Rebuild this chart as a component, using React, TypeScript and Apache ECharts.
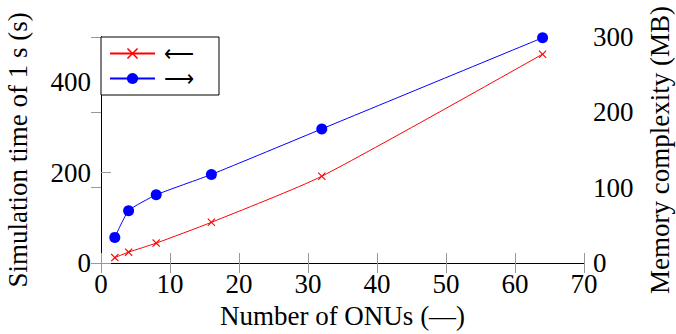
import React, { useEffect, useRef } from "react";
import * as echarts from "echarts";

const onus = [2, 4, 8, 16, 32, 64];
const simTime = [12, 24, 44, 90, 192, 462];
const memory = [34, 69.5, 90.5, 117.5, 178, 299];
const xTicks = [0, 10, 20, 30, 40, 50, 60, 70];
const leftTicks = [0, 200, 400];
const rightTicks = [0, 100, 200, 300];

const FONT = "Liberation Serif";
const crossPath =
  "path://M0,1L1,0L5,4L9,0L10,1L6,5L10,9L9,10L5,6L1,10L0,9L4,5Z";

export default function App() {
  const ref = useRef<HTMLDivElement>(null);
  useEffect(() => {
    if (!ref.current) return;
    const chart = echarts.init(ref.current, undefined, { renderer: "svg" });
    const tickStyle = { color: "#999", width: 1 };
    const lineStyle = { color: "#000", width: 1 };
    chart.setOption({
      animation: false,
      textStyle: { fontFamily: FONT },
      grid: {
        left: 101,
        right: 92,
        top: 37,
        bottom: 71,
        containLabel: false,
        outerBoundsMode: "none",
      },
      legend: {
        left: 101,
        top: 37,
        orient: "vertical",
        data: ["⟵", "⟶"],
        backgroundColor: "#fff",
        borderColor: "#000",
        borderWidth: 1,
        borderRadius: 0,
        padding: [6, 25, 6, 8],
        itemWidth: 45,
        itemHeight: 14,
        itemGap: 4,
        textStyle: {
          fontFamily: FONT,
          fontSize: 21,
          lineHeight: 21,
          color: "#000",
          padding: [0, 0, 0, 4],
        },
      },
      xAxis: [
        {
          type: "value",
          min: xTicks[0],
          max: xTicks[xTicks.length - 1],
          interval: 10,
          name: "Number of ONUs (—)",
          nameLocation: "middle",
          nameGap: 39,
          nameTextStyle: { fontFamily: FONT, fontSize: 27, color: "#000" },
          axisLine: { show: true, lineStyle },
          axisTick: { show: true, inside: true, length: 10, lineStyle: tickStyle },
          axisLabel: { fontFamily: FONT, fontSize: 27, color: "#000", margin: 7 },
          splitLine: { show: false },
        },
        {
          type: "value",
          position: "top",
          min: xTicks[0],
          max: xTicks[xTicks.length - 1],
          interval: 10,
          axisLine: { show: true, lineStyle },
          axisTick: { show: true, inside: true, length: 10, lineStyle: tickStyle },
          axisLabel: { show: false },
          splitLine: { show: false },
        },
      ],
      yAxis: [
        {
          type: "value",
          min: leftTicks[0],
          max: 500,
          interval: 200,
          name: "Simulation time of 1 s (s)",
          nameLocation: "middle",
          nameGap: 70,
          nameTextStyle: { fontFamily: FONT, fontSize: 27, color: "#000" },
          axisLine: { show: true, lineStyle },
          axisTick: { show: true, inside: true, length: 10, lineStyle: tickStyle },
          axisLabel: {
            fontFamily: FONT,
            fontSize: 27,
            color: "#000",
            margin: 10,
            showMaxLabel: false,
          },
          splitLine: { show: false },
        },
        {
          type: "value",
          position: "right",
          min: rightTicks[0],
          max: rightTicks[rightTicks.length - 1],
          interval: 100,
          name: "Memory complexity (MB)",
          nameLocation: "middle",
          nameGap: 62,
          nameRotate: 90,
          nameTextStyle: { fontFamily: FONT, fontSize: 27, color: "#000" },
          axisLine: { show: true, lineStyle },
          axisTick: { show: true, inside: true, length: 10, lineStyle: tickStyle },
          axisLabel: { fontFamily: FONT, fontSize: 27, color: "#000", margin: 9 },
          splitLine: { show: false },
        },
      ],
      series: [
        {
          name: "⟵",
          type: "line",
          yAxisIndex: 0,
          data: onus.map((x, i) => [x, simTime[i]]),
          smooth: 0.2,
          symbol: crossPath,
          symbolSize: 8,
          showAllSymbol: true,
          lineStyle: { color: "#ff0000", width: 1 },
          itemStyle: { color: "#ff0000" },
          z: 3,
        },
        {
          name: "⟶",
          type: "line",
          yAxisIndex: 1,
          data: onus.map((x, i) => [x, memory[i]]),
          smooth: 0.15,
          symbol: "circle",
          symbolSize: 11,
          showAllSymbol: true,
          lineStyle: { color: "#0000ff", width: 1 },
          itemStyle: { color: "#0000ff" },
          z: 4,
        },
      ],
    });
    return () => chart.dispose();
  }, []);
  return (
    <div
      ref={ref}
      style={{ position: "absolute", left: 0, top: 0, width: 676, height: 334 }}
    />
  );
}
